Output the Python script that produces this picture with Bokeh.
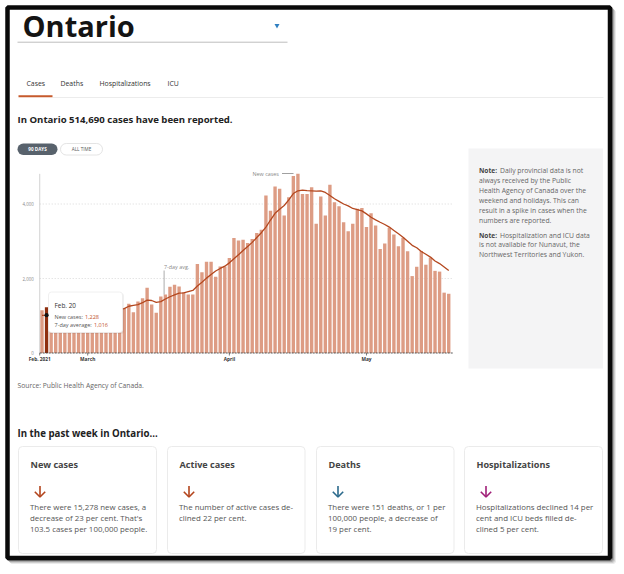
from bokeh.plotting import figure
from bokeh.models import Range1d
from bokeh.core.properties import value
from bokeh.embed import file_html
from bokeh.resources import INLINE

# ---------------- data ----------------
start_date = "2021-02-19"
day_index = list(range(90))
new_cases = [1150, 1228, 1090, 1060, 990, 1050, 1140, 1260, 1180, 1060,
             970, 960, 1010, 1000, 990, 1250, 1300, 1270, 1195, 1320,
             1095, 1380, 1470, 1750, 1300, 1080, 1520, 1570, 1780, 1830,
             1785, 1630, 1570, 1570, 2390, 2170, 2450, 2450, 2050, 2320,
             2320, 2550, 3090, 3020, 3040, 2950, 3060, 3220, 3310, 4230,
             3820, 4470, 4410, 3690, 4180, 4750, 4810, 4270, 4270, 4450,
             3470, 4200, 3690, 4515, 4050, 3940, 3510, 3270, 3470, 3870,
             3890, 3380, 3755, 3420, 2790, 2940, 3360, 3180, 2865, 3095,
             2730, 2065, 2315, 2740, 2370, 2560, 2205, 2185, 1620, 1590]
avg_7day = [1010, 1016, 1025, 1035, 1040, 1050, 1060, 1075, 1085, 1090,
            1095, 1100, 1110, 1120, 1135, 1150, 1165, 1180, 1190, 1255,
            1280, 1300, 1350, 1420, 1410, 1360, 1380, 1450, 1510, 1560,
            1605, 1615, 1650, 1680, 1800, 1900, 2010, 2110, 2200, 2270,
            2330, 2420, 2530, 2640, 2750, 2860, 2970, 3100, 3230, 3380,
            3570, 3750, 3860, 3960, 4110, 4280, 4355, 4370, 4360, 4355,
            4345, 4355, 4310, 4230, 4140, 4070, 4000, 3950, 3880, 3850,
            3815, 3735, 3645, 3575, 3510, 3450, 3380, 3290, 3200, 3110,
            3000, 2890, 2825, 2725, 2650, 2575, 2470, 2400, 2310, 2215]
highlight_day = 1
highlight_date = "Feb. 20"
x_tick_days = [-0.5, 10, 41, 71]
x_tick_labels = ["Feb. 2021", "March", "April", "May"]
y_ticks = [0, 2000, 4000]
y_tick_labels = ["0", "2,000", "4,000"]

# ---------------- page geometry ----------------
W, H = 624, 574
OFF = 0
X0, DX = 41.5, 4.57      # page x of day 0, px per day
Y0, DY = 352.5, 0.03725  # page y of 0 cases, px per case

FONT = value("Open Sans")
BAR = "#dd9c84"
BAR_HI = "#8e2f0f"
LINE = "#b4471e"
ORANGE = "#c0501f"

p = figure(width=W, height=H, x_range=Range1d(0, W), y_range=Range1d(H, 0),
           output_backend="svg", toolbar_location=None, tools="",
           x_axis_type=None, y_axis_type=None, min_border=0)
p.grid.visible = False
p.outline_line_color = None
p.background_fill_color = "white"
p.border_fill_color = "white"

p.extra_x_ranges = {"day": Range1d(-(X0 - OFF) / DX, (W - (X0 - OFF)) / DX)}
p.extra_y_ranges = {"cases": Range1d(((Y0 - OFF) - H) / DY, (Y0 - OFF) / DY)}
CH = dict(x_range_name="day", y_range_name="cases")


def px(x):
    return x - OFF


def txt(x, y, s, size, color="#333", bold=False, align="left", baseline="alphabetic"):
    if baseline == "alphabetic":
        y = y - 0.27 * size
    p.text(x=[px(x)], y=[px(y)], text=[s], text_font=FONT, text_font_size=f"{size}px",
           text_color=color, text_font_style="bold" if bold else "normal",
           text_align=align, text_baseline="middle")


def box(x0, y0, x1, y1, fill="white", line=None, lw=1, r=0, alpha=1.0):
    p.quad(left=[px(x0)], right=[px(x1)], top=[px(y0)], bottom=[px(y1)],
           fill_color=fill, fill_alpha=alpha, line_color=line, line_width=lw,
           border_radius=int(r))


def seg(x0, y0, x1, y1, color, lw=1, dash="solid", alpha=1.0):
    p.segment(x0=[px(x0)], y0=[px(y0)], x1=[px(x1)], y1=[px(y1)],
              line_color=color, line_width=lw, line_dash=dash, line_alpha=alpha)


# ---------------- outer frame with shadow ----------------
for k, a in [(4, 0.08), (3, 0.12), (2, 0.18), (1, 0.25)]:
    p.quad(left=[px(7 + k)], right=[px(609.5 + k)], top=[px(7 + k)], bottom=[px(557.5 + k)],
           fill_color=None, line_color="#000", line_alpha=a, line_width=4)
p.quad(left=[px(7)], right=[px(609.5)], top=[px(7)], bottom=[px(557.5)],
       fill_color="white", line_color="#0a0a0a", line_width=4.5)

# ---------------- header ----------------
txt(22, 33.2, "Ontario", 29, "#141414", bold=True)
p.scatter(x=[px(276.5)], y=[px(25)], marker="inverted_triangle", size=5,
          fill_color="#2f7fc1", line_color=None)
seg(17, 41.7, 287, 41.7, "#bdbdbd", 1)

tabs = [("Cases", 26), ("Deaths", 60), ("Hospitalizations", 99), ("ICU", 167)]
for name, tx in tabs:
    txt(tx, 85.3, name, 6.9, "#333")
seg(52, 97, 603, 97, "#ececec", 1)
seg(18, 95.8, 52, 95.8, "#c65a2c", 2)

txt(17, 121.3, "In Ontario 514,690 cases have been reported.", 9.6, "#222", bold=True)

# toggle buttons
box(60, 143, 102, 154.5, fill="white", line="#e4e4e4", r=6)
box(17, 143, 57, 154.5, fill="#58626c", line=None, r=6)
txt(37, 148.8, "90 DAYS", 4.6, "white", bold=True, align="center", baseline="middle")
txt(81, 148.8, "ALL TIME", 4.6, "#555", align="center", baseline="middle")

# ---------------- chart ----------------
grid_end = len(day_index)
p.segment(x0=[-0.5] * 2, x1=[grid_end] * 2, y0=y_ticks[1:], y1=y_ticks[1:],
          line_color="#cfcfcf", line_width=0.8, line_dash="1 2", **CH)
p.segment(x0=[-0.5], x1=[-0.5], y0=[0], y1=[max(new_cases)],
          line_color="#c8c8c8", line_width=0.8, **CH)

bar_colors = [BAR_HI if d == highlight_day else BAR for d in day_index]
p.vbar(x=day_index, top=new_cases, bottom=0, width=0.74, fill_color=bar_colors,
       line_color=None, **CH)
p.segment(x0=[-0.5], x1=[grid_end], y0=[0], y1=[0], line_color="#444",
          line_width=0.9, line_dash="2 1", **CH)
p.line(x=day_index, y=avg_7day, line_color=LINE, line_width=1.3, **CH)

# axis ticks and labels
tick_len = 2.5 / DY
p.segment(x0=x_tick_days, x1=x_tick_days, y0=[0] * 4, y1=[-tick_len] * 4,
          line_color="#444", line_width=0.7, **CH)
p.text(x=x_tick_days, y=[-6.0 / DY] * 4, text=x_tick_labels, text_font=FONT,
       text_font_size="4.8px", text_font_style="bold", text_color="#333",
       text_align="center", text_baseline="middle", **CH)
p.text(x=[-0.5] * 3, y=y_ticks, text=y_tick_labels, text_font=FONT,
       text_font_size="4.4px", text_color="#888", text_align="right",
       text_baseline="middle", x_offset=-6, **CH)

# annotations
txt(252, 174.6, "New cases", 5.4, "#888")
seg(281.5, 173, 293, 173, "#777", 0.7)
txt(163.5, 267.8, "7-day avg.", 5.4, "#888")
seg(163.6, 270, 163.6, 294, "#888", 0.7)

# tooltip
box(49, 292.5, 123.5, 333.5, fill="#000", alpha=0.06, r=3)
box(48, 291.5, 122, 332, fill="white", line="#ececec", lw=0.8, r=3)
p.scatter(x=[highlight_day], y=[avg_7day[highlight_day]], size=4.2,
          fill_color="#111", line_color=None, **CH)
txt(54, 307, highlight_date, 6.4, "#333")
txt(54, 317.6, "New cases:", 5.5, "#555")
txt(84.5, 317.6, f"{new_cases[highlight_day]:,}", 5.5, ORANGE)
txt(54, 326.3, "7-day average:", 5.5, "#555")
txt(93.5, 326.3, f"{avg_7day[highlight_day]:,}", 5.5, ORANGE)

txt(17, 387, "Source: Public Health Agency of Canada.", 6.75, "#666")

# ---------------- note panel ----------------
box(468, 148, 602.5, 368, fill="#f4f4f5")
note1 = ["Daily provincial data is not", "always received by the Public",
         "Health Agency of Canada over the", "weekend and holidays. This can",
         "result in a spike in cases when the", "numbers are reported."]
note2 = ["Hospitalization and ICU data", "is not available for Nunavut, the",
         "Northwest Territories and Yukon."]
for block, y0 in [(note1, 172.2), (note2, 236.4)]:
    for k, line in enumerate(block):
        yy = y0 + 9.85 * k
        if k == 0:
            txt(478.5, yy, "Note:", 6.6, "#444", bold=True)
            txt(499.5, yy, line, 6.8, "#666")
        else:
            txt(478.5, yy, line, 6.8, "#666")

# ---------------- weekly summary ----------------
txt(17, 435.3, "In the past week in Ontario...", 9.7, "#222", bold=True)
cards = [
    (18, 156, "New cases", "#b3441c",
     ["There were 15,278 new cases, a", "decrease of 23 per cent. That's",
      "103.5 cases per 100,000 people."]),
    (167, 304.5, "Active cases", "#b3441c",
     ["The number of active cases de-", "clined 22 per cent."]),
    (316, 453.5, "Deaths", "#2b6a8c",
     ["There were 151 deaths, or 1 per", "100,000 people, a decrease of",
      "19 per cent."]),
    (464, 602, "Hospitalizations", "#a01f78",
     ["Hospitalizations declined 14 per", "cent and ICU beds filled de-",
      "clined 5 per cent."]),
]
for x0, x1, title, col, lines in cards:
    box(x0, 446, x1, 553, fill="white", line="#ebebeb", lw=1, r=4)
    tx = x0 + 11.5
    txt(tx + 0.5, 466.8, title, 9.1, "#444", bold=True)
    ax = tx + 10
    p.multi_line(xs=[[px(ax), px(ax)], [px(ax - 5.2), px(ax), px(ax + 5.2)]],
                 ys=[[px(485.5), px(496.5)], [px(491.3), px(496.5), px(491.3)]],
                 line_color=col, line_width=1.6)
    for k, line in enumerate(lines):
        txt(tx, 508.8 + 10.8 * k, line, 7.9, "#555")

open("out.html", "w").write(file_html(p, INLINE))
